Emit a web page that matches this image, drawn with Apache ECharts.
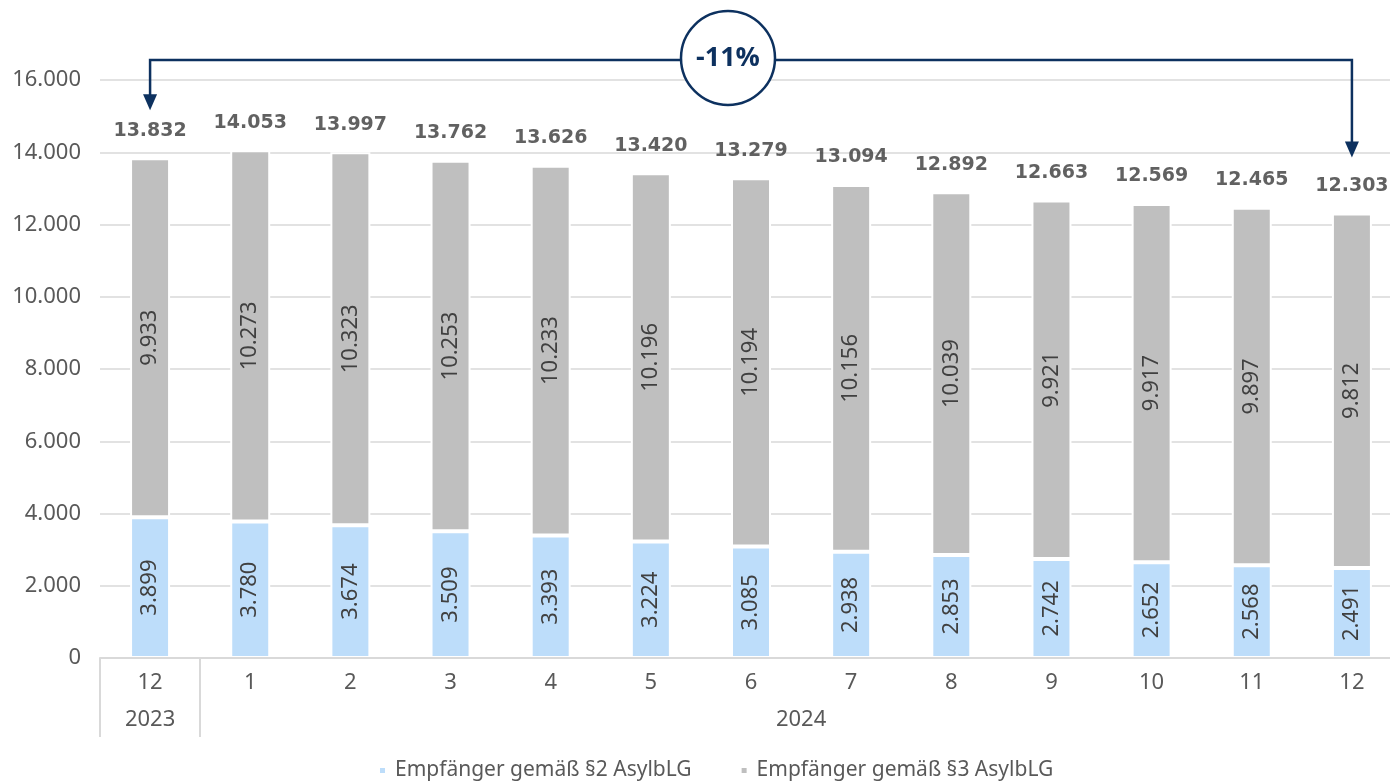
<!DOCTYPE html>
<html>
<head>
<meta charset="utf-8">
<style>
  html, body { margin: 0; padding: 0; background: #ffffff; }
  #chart { width: 1390px; height: 783px; }
</style>
<script src="https://cdn.jsdelivr.net/npm/echarts@6/dist/echarts.min.js"></script>
</head>
<body>
<div id="chart"></div>
<script>
// Monthly recipients of asylum seeker benefits, Dec 2023 – Dec 2024
const months = ['12', '1', '2', '3', '4', '5', '6', '7', '8', '9', '10', '11', '12'];
const years = ['2023', '2024'];
const yearSpans = [1, 12];
const para2 = [3899, 3780, 3674, 3509, 3393, 3224, 3085, 2938, 2853, 2742, 2652, 2568, 2491];
const para3 = [9933, 10273, 10323, 10253, 10233, 10196, 10194, 10156, 10039, 9921, 9917, 9897, 9812];
const seriesNames = ['Empfänger gemäß §2 AsylbLG', 'Empfänger gemäß §3 AsylbLG'];
const yTicks = [0, 2000, 4000, 6000, 8000, 10000, 12000, 14000, 16000];

const totals = para2.map((v, i) => v + para3[i]);

const FONT = 'Noto Sans';
const BOLD_FONT = 'DejaVu Sans';
const NAVY = '#0d315f';
const fmt = v => String(v).replace(/\B(?=(\d{3})+(?!\d))/g, '.');

// year group boundaries and label centres on a 0..n scale
const yearBounds = [0];
yearSpans.forEach(s => yearBounds.push(yearBounds[yearBounds.length - 1] + s));
const yearCentres = yearSpans.map((s, i) => yearBounds[i] + s / 2);

const chart = echarts.init(document.getElementById('chart'), null, { renderer: 'canvas' });

const insideLabel = {
  show: true,
  position: 'inside',
  rotate: 90,
  fontFamily: FONT,
  fontSize: 22,
  color: '#404040',
  formatter: p => fmt(p.value)
};

chart.setOption({
  animation: false,
  backgroundColor: '#ffffff',
  textStyle: { fontFamily: FONT },
  grid: { left: 100, top: 80, width: 1302, bottom: 125, outerBoundsMode: 'none', containLabel: false },
  legend: {
    data: seriesNames,
    bottom: -3,
    left: 373,
    icon: 'rect',
    itemWidth: 7,
    itemHeight: 7,
    itemGap: 48,
    textStyle: { fontFamily: FONT, fontSize: 21, color: '#595959', padding: [0, 0, 0, 4] }
  },
  xAxis: [
    {
      type: 'category',
      data: months,
      z: 5,
      axisLine: { lineStyle: { color: '#d9d9d9', width: 2 } },
      axisTick: { show: false },
      axisLabel: { fontFamily: FONT, fontSize: 22, color: '#595959', margin: 14 }
    },
    {
      type: 'value',
      min: 0,
      max: months.length,
      position: 'bottom',
      offset: 0,
      axisLine: { show: false },
      splitLine: { show: false },
      axisTick: {
        show: true,
        customValues: yearBounds,
        length: 79,
        lineStyle: { color: '#d9d9d9', width: 2 }
      },
      axisLabel: {
        customValues: yearCentres,
        margin: 51,
        fontFamily: FONT,
        fontSize: 22,
        color: '#595959',
        formatter: v => years[yearCentres.indexOf(v)]
      }
    }
  ],
  yAxis: {
    type: 'value',
    min: yTicks[0],
    max: yTicks[yTicks.length - 1],
    interval: yTicks[1] - yTicks[0],
    axisLine: { show: false },
    axisTick: { show: false },
    splitLine: { lineStyle: { color: '#d9d9d9', width: 1.5 } },
    axisLabel: {
      fontFamily: FONT,
      fontSize: 22,
      color: '#595959',
      margin: 19,
      formatter: v => fmt(v)
    }
  },
  series: [
    {
      name: seriesNames[0],
      type: 'bar',
      stack: 'total',
      barWidth: 40,
      data: para2,
      itemStyle: { color: '#bdddfa', borderColor: '#ffffff', borderWidth: 2 },
      label: insideLabel
    },
    {
      name: seriesNames[1],
      type: 'bar',
      stack: 'total',
      barWidth: 40,
      data: para3,
      itemStyle: { color: '#bfbfbf', borderColor: '#ffffff', borderWidth: 2 },
      label: insideLabel
    },
    {
      name: 'Summe',
      type: 'scatter',
      data: totals,
      symbolSize: 0,
      silent: true,
      label: {
        show: true,
        position: 'top',
        distance: 18,
        fontFamily: BOLD_FONT,
        fontSize: 19,
        fontWeight: 'bold',
        color: '#3a3a3a',
        formatter: p => fmt(p.value)
      }
    }
  ]
});

// Bracket with arrows showing the change between first and last month
const first = 0, last = totals.length - 1;
const pFirst = chart.convertToPixel({ xAxisIndex: 0, yAxisIndex: 0 }, [first, totals[first]]);
const pLast = chart.convertToPixel({ xAxisIndex: 0, yAxisIndex: 0 }, [last, totals[last]]);
const change = Math.round((totals[last] - totals[first]) / totals[first] * 100);
const lineY = 60;
const tipL = pFirst[1] - 48;
const tipR = pLast[1] - 56;
const ah = 16, aw = 7;
const circleX = 728, circleR = 47;

chart.setOption({
  graphic: [
    {
      type: 'polyline',
      shape: { points: [[pFirst[0], tipL - ah + 1], [pFirst[0], lineY], [pLast[0], lineY], [pLast[0], tipR - ah + 1]] },
      style: { stroke: NAVY, lineWidth: 2.5, fill: null },
      z: 10
    },
    {
      type: 'polygon',
      shape: { points: [[pFirst[0] - aw, tipL - ah], [pFirst[0] + aw, tipL - ah], [pFirst[0], tipL]] },
      style: { fill: NAVY },
      z: 10
    },
    {
      type: 'polygon',
      shape: { points: [[pLast[0] - aw, tipR - ah], [pLast[0] + aw, tipR - ah], [pLast[0], tipR]] },
      style: { fill: NAVY },
      z: 10
    },
    {
      type: 'circle',
      shape: { cx: circleX, cy: lineY - 2, r: circleR },
      style: { fill: '#ffffff', stroke: NAVY, lineWidth: 2.5 },
      z: 11
    },
    {
      type: 'text',
      x: circleX,
      y: lineY - 2,
      style: {
        text: change + '%',
        fill: NAVY,
        font: 'bold 27px "Open Sans", sans-serif',
        align: 'center',
        verticalAlign: 'middle'
      },
      z: 12
    }
  ]
});
</script>
</body>
</html>
